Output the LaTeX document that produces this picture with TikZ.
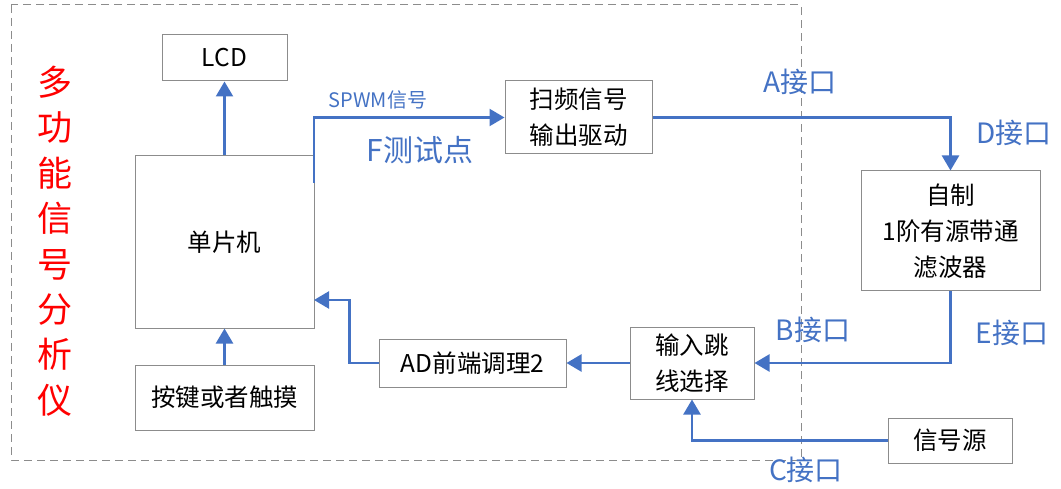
\documentclass[tikz,border=0pt]{standalone}
\usepackage{fontspec}
\setmainfont{Noto Sans CJK SC}
\usetikzlibrary{arrows.meta}
\definecolor{linkblue}{HTML}{4472C4}
\definecolor{boxgray}{HTML}{8C8C8C}
\begin{document}
\begin{tikzpicture}
[x=1pt,y=-1pt,
 blk/.style={draw=boxgray,line width=1pt,minimum width=#1,inner sep=0pt,
             font=\fontsize{24.5}{36}\selectfont,align=center},
 lnk/.style={draw=linkblue,line width=2.4pt,
             -{Triangle[width=17pt,length=15pt]}},
 port/.style={text=linkblue,font=\fontsize{28}{32}\selectfont,inner sep=0pt}]
  \useasboundingbox (0,0) rectangle (1061,489);
  \draw[boxgray,line width=1pt,dash pattern=on 8pt off 5pt] (11,5) rectangle (801,460); % board
  \node[text=red,align=center,font=\fontsize{35}{45.4}\selectfont] (title) at (55,241)
    {多\\功\\能\\信\\号\\分\\析\\仪};
  \node[blk=125pt,minimum height=46pt] (lcd) at (224.5,58) {LCD};
  \node[blk=179pt,minimum height=172pt] (mcu) at (224.5,242) {单片机};
  \node[blk=179pt,minimum height=65pt] (key) at (224.5,397.5) {按键或者触摸};
  \node[blk=147pt,minimum height=73pt] (sweep) at (578.5,117.5) {扫频信号\\输出驱动};
  \node[blk=179pt,minimum height=120pt] (filt) at (950.5,231) {自制\\1阶有源带通\\滤波器};
  \node[blk=124pt,minimum height=72pt] (jump) at (692,363) {输入跳\\线选择};
  \node[blk=187pt,minimum height=48pt] (ad) at (472.5,363) {AD前端调理2};
  \node[blk=124pt,minimum height=45pt] (src) at (950,440.5) {信号源};
  % free ends on the mcu
  \coordinate (ftp) at (314,183);
  \coordinate (adin) at (314,300);
  \draw[lnk] (mcu.north) -- (lcd.south);
  \draw[lnk] (key.north) -- (mcu.south);
  \draw[lnk] (ftp) |- (sweep.west);
  \draw[lnk] (sweep.east) -| (filt.north);
  \draw[lnk] (filt.south) |- (jump.east);
  \draw[lnk] (src.west) -| (jump.south);
  \draw[lnk] (jump.west) -- (ad.east);
  \draw[lnk] (ad.west) -- ++(-29,0) |- (adin);
  % labels
  \node[port,font=\fontsize{20}{24}\selectfont] (spwm) at (378,100) {SPWM信号};
  \node[port,font=\fontsize{30}{34}\selectfont] (ftest) at (420,150) {F测试点};
  \node[port] (pa) at (800,82) {A接口};
  \node[port] (pd) at (1014,133) {D接口};
  \node[port] (pb) at (813,330) {B接口};
  \node[port] (pe) at (1012,333) {E接口};
  \node[port] (pc) at (806,470) {C接口};
\end{tikzpicture}
\end{document}
